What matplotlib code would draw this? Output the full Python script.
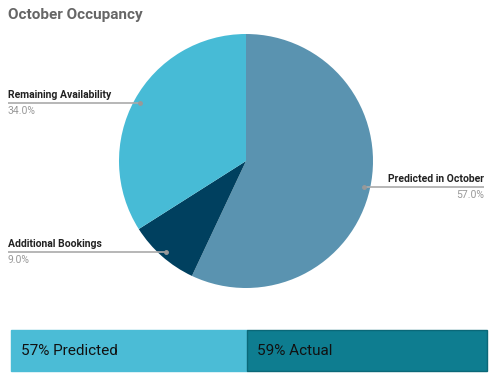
import numpy as np
import matplotlib.pyplot as plt
from matplotlib.patches import Rectangle

plt.rcParams['font.family'] = ['Roboto', 'DejaVu Sans']

# 数据
labels = ['Predicted in October', 'Additional Bookings', 'Remaining Availability']
values = [57.0, 9.0, 34.0]
colors = ['#5a93b0', '#00405f', '#47bbd6']
box_labels = ['Predicted', 'Actual']
box_values = [57, 59]
box_colors = ['#4bbcd6', '#0e7d90']

H = 382
fig = plt.figure(figsize=(5, 3.82), dpi=100)
ax = fig.add_axes([0, 0, 1, 1])

cx, cy, R = 246, H - 161, 127
wedges, _ = ax.pie(values, colors=colors, startangle=90, counterclock=False,
                   center=(cx, cy), radius=R, frame=True,
                   wedgeprops=dict(linewidth=0))

ax.set_xlim(0, 500)
ax.set_ylim(0, H)
ax.axis('off')

# 标签位置 (像素)
label_pos = {
    'Predicted in October': (484, 'right'),
    'Additional Bookings': (8, 'left'),
    'Remaining Availability': (8, 'left'),
}

for w, lab, v in zip(wedges, labels, values):
    ang = np.deg2rad((w.theta1 + w.theta2) / 2)
    px = cx + 0.95 * R * np.cos(ang)
    py = cy + 0.95 * R * np.sin(ang)
    tx, ha = label_pos[lab]
    ax.plot([tx, px], [py, py], color='#aaaaaa', lw=1.2, solid_capstyle='butt')
    ax.plot(px, py, 'o', ms=2.5, color='#999999')
    ax.text(tx, py + 3, lab, ha=ha, va='bottom', fontsize=7.5,
            fontweight='bold', color='#222222')
    ax.text(tx, py - 3, f'{v:.1f}%', ha=ha, va='top', fontsize=7.5,
            color='#999999')

ax.text(8, H - 15, 'October Occupancy', ha='left', va='center',
        fontsize=11, fontweight='bold', color='#666666')

# 底部方框
lefts = [11, 247]
widths = [236, 240]
for l, wd, lab, v, c in zip(lefts, widths, box_labels, box_values, box_colors):
    edge = '#0a6878' if lab == 'Actual' else c
    ax.add_patch(Rectangle((l, H - 371), wd, 41, facecolor=c,
                           edgecolor=edge, lw=1))
    ax.text(l + 10, H - 351, f'{v}% {lab}', ha='left', va='center',
            fontsize=11, color='#111111')

fig.savefig('out.png', dpi=100)
